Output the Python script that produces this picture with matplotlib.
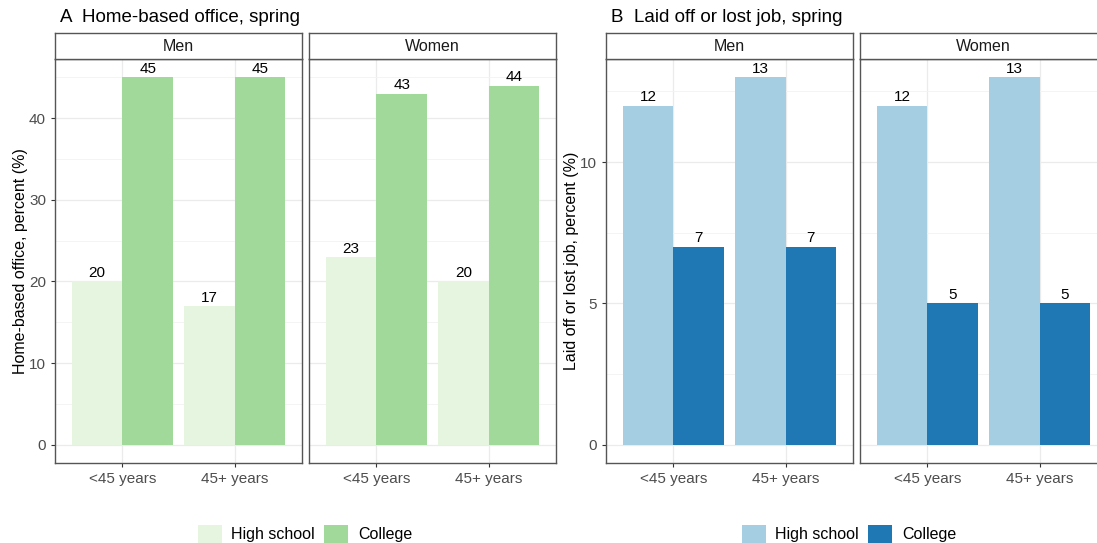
import numpy as np
import matplotlib
matplotlib.use("Agg")
import matplotlib.pyplot as plt
from matplotlib.patches import Patch
from matplotlib.ticker import MultipleLocator

plt.rcParams['font.family'] = ['Liberation Sans', 'DejaVu Sans']

ages = ["<45 years", "45+ years"]
sexes = ["Men", "Women"]
educ = ["High school", "College"]

# values [sex][educ][age]
office = {"Men": {"High school": [20, 17], "College": [45, 45]},
          "Women": {"High school": [23, 20], "College": [43, 44]}}
laidoff = {"Men": {"High school": [12, 13], "College": [7, 7]},
           "Women": {"High school": [12, 13], "College": [5, 5]}}

greens = ["#e5f5e0", "#a1d99b"]
blues = ["#a6cee3", "#1f78b4"]

W, H = 1097, 543
fig = plt.figure(figsize=(W / 100, H / 100), dpi=100)

def px(x0, y0, w, h):
    return [x0 / W, 1 - (y0 + h) / H, w / W, h / H]

pw = 247
ptop, pbot = 59, 463
stop = 33

def panel(x0, data, colors, ylim, major, minor, ylabel, title, leg_x):
    axes = []
    for i, s in enumerate(sexes):
        left = x0 + i * (pw + 7)
        ax = fig.add_axes(px(left, ptop, pw, pbot - ptop))
        x = np.arange(1, len(ages) + 1)
        for j, e in enumerate(educ):
            vals = data[s][e]
            pos = x - 0.225 + j * 0.45
            ax.bar(pos, vals, width=0.45, color=colors[j], zorder=2)
            for p, v in zip(pos, vals):
                ax.annotate(str(v), (p, v), xytext=(0, 1), textcoords="offset points",
                            ha="center", va="bottom", fontsize=11, color="black", zorder=3)
        ax.set_xlim(0.4, 2.6)
        ax.set_ylim(*ylim)
        ax.set_xticks(x)
        ax.set_xticklabels(ages)
        ax.yaxis.set_major_locator(MultipleLocator(major))
        ax.yaxis.set_minor_locator(MultipleLocator(minor))
        ax.grid(True, which="major", color="#ebebeb", lw=0.9, zorder=0)
        ax.grid(True, which="minor", axis="y", color="#f3f3f3", lw=0.6, zorder=0)
        ax.set_axisbelow(True)
        ax.tick_params(axis="both", which="major", labelsize=11, colors="#333333",
                       length=3, width=0.8, labelcolor="#4d4d4d")
        ax.tick_params(axis="y", which="minor", length=0)
        for sp in ax.spines.values():
            sp.set_color("#555555")
            sp.set_linewidth(1.0)
        if i == 0:
            ax.set_ylabel(ylabel, fontsize=11.5, color="black", labelpad=1)
        else:
            ax.tick_params(axis="y", which="both", left=False, labelleft=False)
        st = fig.add_axes(px(left, stop, pw, ptop - stop))
        st.set_xticks([])
        st.set_yticks([])
        st.set_facecolor("white")
        for sp in st.spines.values():
            sp.set_color("#555555")
            sp.set_linewidth(1.0)
        st.text(0.5, 0.5, s, ha="center", va="center", fontsize=11.5, color="#1a1a1a",
                transform=st.transAxes)
        axes.append(ax)
    fig.text((x0 + 5) / W, 1 - 17 / H, title, fontsize=13.5, ha="left", va="center")
    handles = [Patch(facecolor=c, edgecolor="none", label=e) for c, e in zip(colors, educ)]
    fig.legend(handles=handles, loc="center", bbox_to_anchor=(leg_x / W, 1 - 534 / H),
               ncol=2, frameon=False, fontsize=11.5, handlelength=1.5, handleheight=1.3,
               columnspacing=0.6, handletextpad=0.6)
    return axes

panel(55, office, greens, (-2.25, 47.25), 10, 5,
      "Home-based office, percent (%)", "A  Home-based office, spring", 305)
panel(606, laidoff, blues, (-0.65, 13.65), 5, 2.5,
      "Laid off or lost job, percent (%)", "B  Laid off or lost job, spring", 849)

fig.savefig("out.png", dpi=100)
